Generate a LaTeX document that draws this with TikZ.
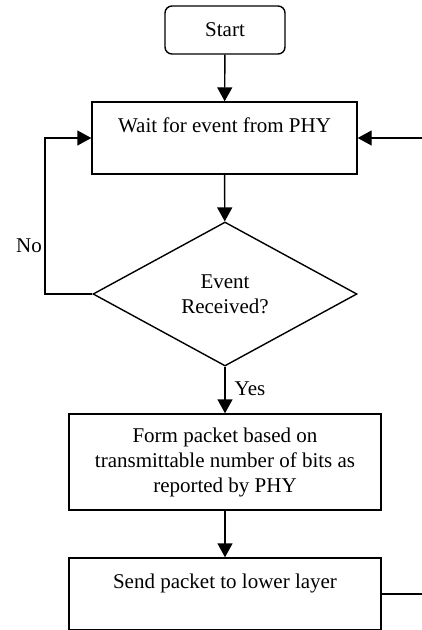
\documentclass[tikz,border=0pt]{standalone}
\usepackage{fontspec}
\setmainfont{Liberation Serif}
\usetikzlibrary{shapes.geometric,arrows.meta}

\def\picW{422}
\def\picH{630}

\tikzset{
  box/.style={draw, line width=1.4pt, rectangle, inner sep=0pt, align=center,
    font=\fontsize{21}{25}\selectfont},
  decision/.style={draw, line width=1.4pt, diamond, inner sep=0pt, align=center,
    font=\fontsize{21}{25}\selectfont},
  flow/.style={line width=1.4pt, ->},
}

\begin{document}
\begin{tikzpicture}[x=1pt, y=-1pt, >={Triangle[width=15pt,length=14pt]}]
  \useasboundingbox (0,0) rectangle (\picW,\picH);
  \node[box, rounded corners=7pt, minimum width=120pt, minimum height=48pt] (start) at (225,30) {Start};
  \node[box, minimum width=265pt, minimum height=72pt] (wait) at (224.5,138) {Wait for event from PHY\\\mbox{}};
  \node[decision, minimum width=264pt, minimum height=144pt] (event) at (225,294) {Event\\Received?};
  \node[box, minimum width=312pt, minimum height=96pt] (form) at (225,462)
    {Form packet based on\\transmittable number of bits as\\reported by PHY};
  \node[box, minimum width=312pt, minimum height=72pt] (send) at (225,594) {Send packet to lower layer\\\mbox{}};
  \coordinate (noturn) at (45,294);
  \coordinate (backin) at (\picW,138);
  \coordinate (backout) at (\picW,594);

  \draw[flow] (start) -- (wait);
  \draw[flow] (wait) -- (event);
  \draw[flow] (event.west) -- (noturn) |- (wait.west);
  \draw[flow] (event.south) -- (form.north);
  \draw[flow] (form) -- (send);
  \draw[flow] (backin) -- (wait.east);
  \draw[line width=1.4pt] (send.east) -- (backout);

  \node[font=\fontsize{21}{25}\selectfont] (nolabel) at (29,246) {No};
  \node[font=\fontsize{21}{25}\selectfont] (yeslabel) at (250,389) {Yes};
\end{tikzpicture}
\end{document}
